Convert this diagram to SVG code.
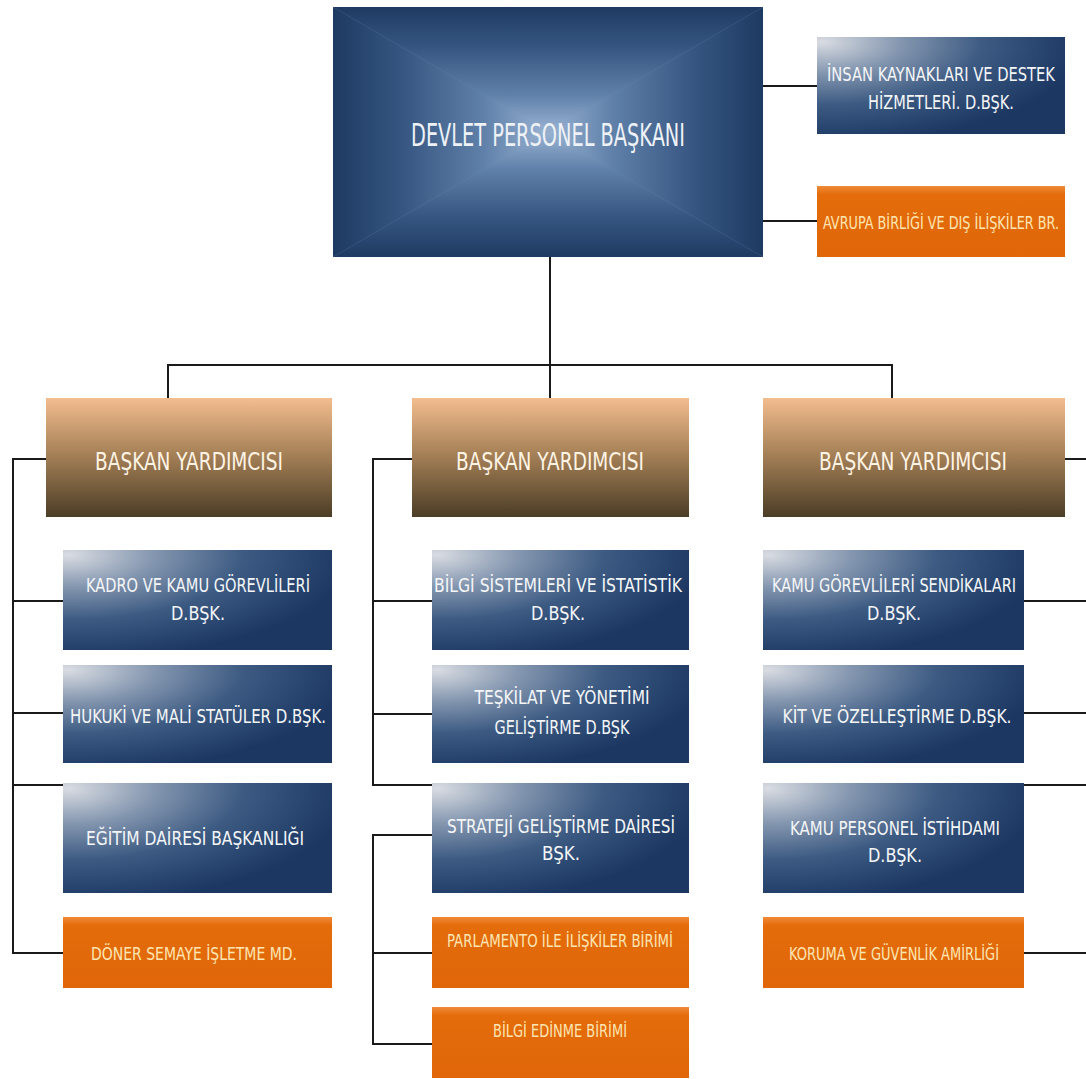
<svg xmlns="http://www.w3.org/2000/svg" width="1086" height="1079" viewBox="0 0 1086 1079">
<defs>
<linearGradient id="gT1" gradientUnits="userSpaceOnUse" x1="0" y1="7" x2="0" y2="132">
<stop offset="0" stop-color="#1e3a62"/><stop offset="0.3" stop-color="#34547f"/><stop offset="0.7" stop-color="#5f80a9"/><stop offset="1" stop-color="#9ab3d2"/>
</linearGradient>
<linearGradient id="gT2" gradientUnits="userSpaceOnUse" x1="0" y1="257" x2="0" y2="132">
<stop offset="0" stop-color="#1e3a62"/><stop offset="0.3" stop-color="#34547f"/><stop offset="0.7" stop-color="#5f80a9"/><stop offset="1" stop-color="#9ab3d2"/>
</linearGradient>
<linearGradient id="gT3" gradientUnits="userSpaceOnUse" x1="333" y1="0" x2="548" y2="0">
<stop offset="0" stop-color="#1e3a62"/><stop offset="0.3" stop-color="#34547f"/><stop offset="0.7" stop-color="#5f80a9"/><stop offset="1" stop-color="#9ab3d2"/>
</linearGradient>
<linearGradient id="gT4" gradientUnits="userSpaceOnUse" x1="763" y1="0" x2="548" y2="0">
<stop offset="0" stop-color="#1e3a62"/><stop offset="0.3" stop-color="#34547f"/><stop offset="0.7" stop-color="#5f80a9"/><stop offset="1" stop-color="#9ab3d2"/>
</linearGradient>
<radialGradient id="gBlue" cx="0.02" cy="0.05" r="1.05">
<stop offset="0" stop-color="#d9dce2"/>
<stop offset="0.3" stop-color="#8597b0"/>
<stop offset="0.62" stop-color="#3c5a82"/>
<stop offset="1" stop-color="#1b3762"/>
</radialGradient>
<linearGradient id="gBY" x1="0" y1="0" x2="0" y2="1">
<stop offset="0" stop-color="#f3bd8f"/>
<stop offset="0.45" stop-color="#a98359"/>
<stop offset="1" stop-color="#4b3d26"/>
</linearGradient>
<linearGradient id="gOr" x1="0" y1="0" x2="0" y2="1">
<stop offset="0" stop-color="#f08a3a"/>
<stop offset="0.12" stop-color="#e46c0a"/>
<stop offset="1" stop-color="#e06609"/>
</linearGradient>
<style>
.blue{fill:url(#gBlue)}
.by{fill:url(#gBY)}
.or{fill:url(#gOr)}
text{font-family:"DejaVu Sans","Liberation Sans",sans-serif;font-stretch:condensed;text-anchor:middle}
.tw{fill:#f4f6f8;font-size:19px}
.tb{fill:#fff4e4;font-size:25px}
.to{fill:#fde6b4;font-size:18px}
.conn line{stroke:#1a1a1a;stroke-width:2}
</style>
</defs>
<rect width="1086" height="1079" fill="#ffffff"/>
<g class="conn" id="connectors">
<line x1="763" y1="86" x2="817" y2="86"/>
<line x1="763" y1="221" x2="817" y2="221"/>
<line x1="550" y1="257" x2="550" y2="398"/>
<line x1="168" y1="365" x2="892" y2="365"/>
<line x1="168" y1="364" x2="168" y2="398"/>
<line x1="892" y1="364" x2="892" y2="398"/>
<line x1="13" y1="458" x2="13" y2="954"/>
<line x1="12" y1="459" x2="46" y2="459"/>
<line x1="12" y1="601" x2="63" y2="601"/>
<line x1="12" y1="713" x2="63" y2="713"/>
<line x1="12" y1="785" x2="63" y2="785"/>
<line x1="12" y1="953" x2="63" y2="953"/>
<line x1="373" y1="458" x2="373" y2="786"/>
<line x1="372" y1="459" x2="412" y2="459"/>
<line x1="372" y1="601" x2="432" y2="601"/>
<line x1="372" y1="714" x2="432" y2="714"/>
<line x1="372" y1="785" x2="432" y2="785"/>
<line x1="373" y1="834" x2="373" y2="1045"/>
<line x1="372" y1="835" x2="432" y2="835"/>
<line x1="372" y1="953" x2="432" y2="953"/>
<line x1="372" y1="1044" x2="432" y2="1044"/>
<line x1="1065" y1="459" x2="1086" y2="459"/>
<line x1="1024" y1="601" x2="1086" y2="601"/>
<line x1="1024" y1="713" x2="1086" y2="713"/>
<line x1="1024" y1="785" x2="1086" y2="785"/>
<line x1="1024" y1="953" x2="1086" y2="953"/>
</g>
<g id="n-baskan">
<rect x="333" y="7" width="430" height="250" fill="#6a89b0"/>
<polygon points="333,7 763,7 548,132" fill="url(#gT1)"/>
<polygon points="333,257 763,257 548,132" fill="url(#gT2)"/>
<polygon points="333,7 333,257 548,132" fill="url(#gT3)"/>
<polygon points="763,7 763,257 548,132" fill="url(#gT4)"/>
<text x="548" y="146" fill="#eef2f7" font-size="32" textLength="274" lengthAdjust="spacingAndGlyphs">DEVLET PERSONEL BAŞKANI</text>
</g>
<g id="n-insan">
<rect class="blue" x="817" y="37" width="248" height="97"/>
<text class="tw" style="font-size:15px" transform="translate(941,81) scale(1,1.27)" x="0" y="0" textLength="228" lengthAdjust="spacingAndGlyphs">İNSAN KAYNAKLARI VE DESTEK</text>
<text class="tw" style="font-size:15px" transform="translate(941,109) scale(1,1.27)" x="0" y="0" textLength="146" lengthAdjust="spacingAndGlyphs">HİZMETLERİ. D.BŞK.</text>
</g>
<g id="n-avrupa">
<rect class="or" x="817" y="186" width="248" height="71"/>
<text class="to" style="font-size:13px" transform="translate(941,229) scale(1,1.38)" x="0" y="0" textLength="236" lengthAdjust="spacingAndGlyphs">AVRUPA BİRLİĞİ VE DIŞ İLİŞKİLER BR.</text>
</g>
<g id="n-by1">
<rect class="by" x="46" y="398" width="286" height="119"/>
<text class="tb" x="189" y="470" textLength="188" lengthAdjust="spacingAndGlyphs">BAŞKAN YARDIMCISI</text>
</g>
<g id="n-by2">
<rect class="by" x="412" y="398" width="277" height="119"/>
<text class="tb" x="550" y="470" textLength="188" lengthAdjust="spacingAndGlyphs">BAŞKAN YARDIMCISI</text>
</g>
<g id="n-by3">
<rect class="by" x="763" y="398" width="302" height="119"/>
<text class="tb" x="913" y="470" textLength="188" lengthAdjust="spacingAndGlyphs">BAŞKAN YARDIMCISI</text>
</g>
<g id="n-kadro">
<rect class="blue" x="63" y="550" width="269" height="100"/>
<text class="tw" x="198" y="592" textLength="224" lengthAdjust="spacingAndGlyphs">KADRO VE KAMU GÖREVLİLERİ</text>
<text class="tw" x="198" y="620" textLength="54" lengthAdjust="spacingAndGlyphs">D.BŞK.</text>
</g>
<g id="n-hukuki">
<rect class="blue" x="63" y="665" width="269" height="98"/>
<text class="tw" x="198" y="723" textLength="256" lengthAdjust="spacingAndGlyphs">HUKUKİ VE MALİ STATÜLER D.BŞK.</text>
</g>
<g id="n-egitim">
<rect class="blue" x="63" y="783" width="269" height="110"/>
<text class="tw" x="195" y="845" textLength="218" lengthAdjust="spacingAndGlyphs">EĞİTİM DAİRESİ BAŞKANLIĞI</text>
</g>
<g id="n-doner">
<rect class="or" x="63" y="917" width="269" height="71"/>
<text class="to" x="194" y="960" textLength="206" lengthAdjust="spacingAndGlyphs">DÖNER SEMAYE İŞLETME MD.</text>
</g>
<g id="n-bilgisis">
<rect class="blue" x="432" y="550" width="257" height="100"/>
<text class="tw" x="558" y="592" textLength="248" lengthAdjust="spacingAndGlyphs">BİLGİ SİSTEMLERİ VE İSTATİSTİK</text>
<text class="tw" x="558" y="620" textLength="54" lengthAdjust="spacingAndGlyphs">D.BŞK.</text>
</g>
<g id="n-teskilat">
<rect class="blue" x="432" y="665" width="257" height="98"/>
<text class="tw" x="562" y="704" textLength="175" lengthAdjust="spacingAndGlyphs">TEŞKİLAT VE YÖNETİMİ</text>
<text class="tw" x="562" y="734" textLength="135" lengthAdjust="spacingAndGlyphs">GELİŞTİRME D.BŞK</text>
</g>
<g id="n-strateji">
<rect class="blue" x="432" y="783" width="257" height="110"/>
<text class="tw" x="561" y="833" textLength="228" lengthAdjust="spacingAndGlyphs">STRATEJİ GELİŞTİRME DAİRESİ</text>
<text class="tw" x="561" y="860" textLength="38" lengthAdjust="spacingAndGlyphs">BŞK.</text>
</g>
<g id="n-parlamento">
<rect class="or" x="432" y="917" width="257" height="71"/>
<text class="to" x="560" y="947" textLength="226" lengthAdjust="spacingAndGlyphs">PARLAMENTO İLE İLİŞKİLER BİRİMİ</text>
</g>
<g id="n-bilgiedinme">
<rect class="or" x="432" y="1007" width="257" height="71"/>
<text class="to" x="560" y="1037" textLength="134" lengthAdjust="spacingAndGlyphs">BİLGİ EDİNME BİRİMİ</text>
</g>
<g id="n-sendika">
<rect class="blue" x="763" y="550" width="261" height="100"/>
<text class="tw" x="894" y="592" textLength="244" lengthAdjust="spacingAndGlyphs">KAMU GÖREVLİLERİ SENDİKALARI</text>
<text class="tw" x="894" y="620" textLength="54" lengthAdjust="spacingAndGlyphs">D.BŞK.</text>
</g>
<g id="n-kit">
<rect class="blue" x="763" y="665" width="261" height="98"/>
<text class="tw" x="897" y="723" textLength="229" lengthAdjust="spacingAndGlyphs">KİT VE ÖZELLEŞTİRME D.BŞK.</text>
</g>
<g id="n-istihdam">
<rect class="blue" x="763" y="783" width="261" height="110"/>
<text class="tw" x="895" y="835" textLength="210" lengthAdjust="spacingAndGlyphs">KAMU PERSONEL İSTİHDAMI</text>
<text class="tw" x="895" y="862" textLength="54" lengthAdjust="spacingAndGlyphs">D.BŞK.</text>
</g>
<g id="n-koruma">
<rect class="or" x="763" y="917" width="261" height="71"/>
<text class="to" x="894" y="960" textLength="210" lengthAdjust="spacingAndGlyphs">KORUMA VE GÜVENLİK AMİRLİĞİ</text>
</g>
</svg>
